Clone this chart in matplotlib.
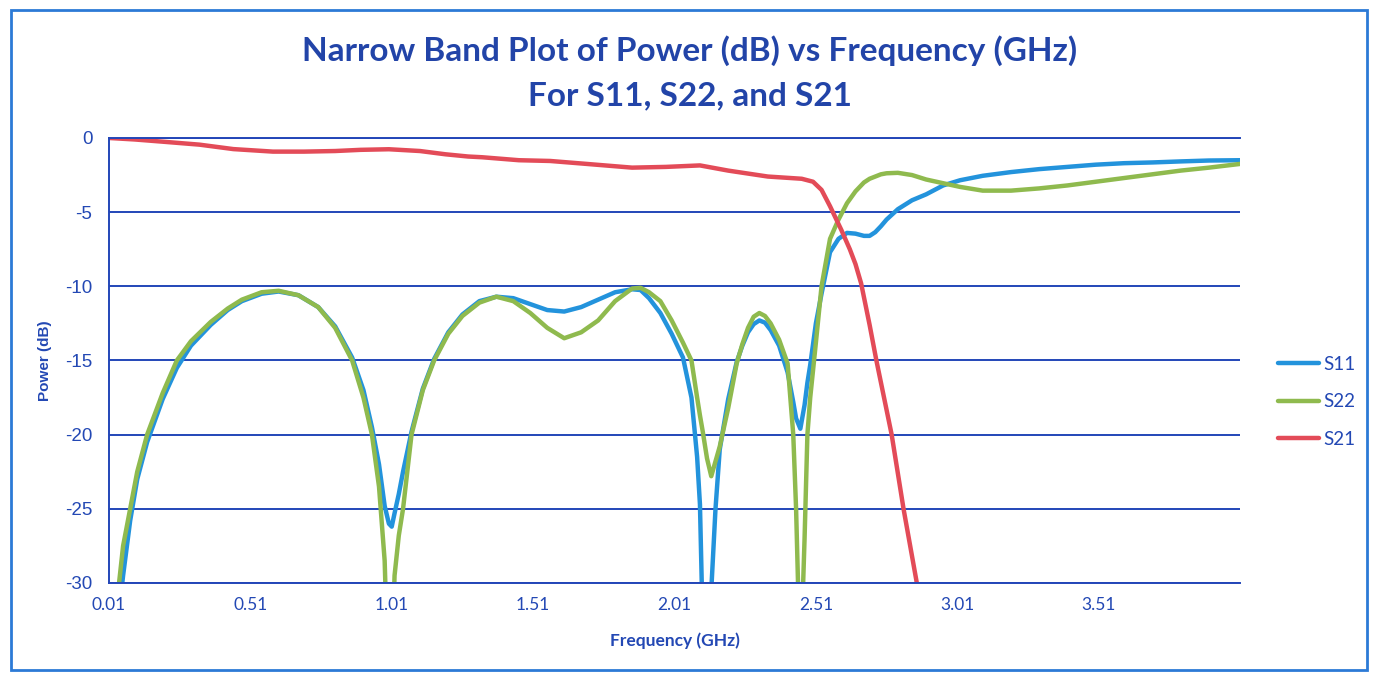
import matplotlib.pyplot as plt
from matplotlib.patches import Rectangle

# Narrow band plot of S11, S22 and S21

freq = [0.01, 0.04, 0.06, 0.085, 0.11, 0.145, 0.2, 0.25, 0.3, 0.37, 0.43, 0.48,
        0.55, 0.61, 0.68, 0.75, 0.81, 0.87, 0.91, 0.94, 0.965, 0.985, 1.0, 1.01,
        1.02, 1.035, 1.05, 1.08, 1.12, 1.16, 1.21, 1.26, 1.32, 1.38, 1.44, 1.5,
        1.56, 1.62, 1.68, 1.74, 1.8, 1.86, 1.89, 1.92, 1.96, 2.0, 2.04, 2.07, 2.09,
        2.1, 2.11, 2.125, 2.14, 2.155, 2.17, 2.2, 2.23, 2.25, 2.27, 2.29, 2.31, 2.33,
        2.35, 2.38, 2.41, 2.43, 2.44, 2.455, 2.47, 2.48, 2.49, 2.51, 2.53, 2.56, 2.59,
        2.62, 2.65, 2.68, 2.7, 2.72, 2.74, 2.76, 2.8, 2.85, 2.9, 2.96, 3.02, 3.1, 3.2,
        3.3, 3.4, 3.5, 3.6, 3.7, 3.8, 3.9, 4.01]

s11 = [-45, -33, -29.5, -25.8, -23, -20.5, -17.6, -15.5, -14.0, -12.6, -11.6, -11.0,
       -10.5, -10.35, -10.6, -11.4, -12.7, -14.8, -17.0, -19.5, -22.0, -24.8, -26.0, -26.2,
       -25.3, -24.0, -22.5, -19.8, -16.9, -14.9, -13.1, -11.9, -11.0, -10.7, -10.8, -11.2,
       -11.6, -11.7, -11.4, -10.9, -10.4, -10.2, -10.25, -10.8, -11.8, -13.2, -14.8, -17.5,
       -21.5, -24.7, -33, -40, -30.5, -25, -21, -17.6, -15.1, -14.0, -13.1, -12.55, -12.3,
       -12.45, -12.95, -14.0, -15.8, -17.8, -18.9, -19.6, -18.0, -16.5, -15.3, -12.5, -10.5,
       -7.7, -6.8, -6.4, -6.45, -6.6, -6.6, -6.35, -5.95, -5.5, -4.8, -4.2, -3.8, -3.2,
       -2.85, -2.55, -2.3, -2.1, -1.95, -1.8, -1.7, -1.65, -1.58, -1.52, -1.5]

s22 = [-42, -31, -27.5, -25, -22.5, -20, -17.2, -15, -13.7, -12.4, -11.5, -10.9,
       -10.4, -10.3, -10.6, -11.4, -12.8, -15.0, -17.5, -20, -23.5, -28.5, -38, -36,
       -29.5, -26.8, -25, -20, -17, -15, -13.2, -12, -11.1, -10.7, -11.0, -11.8,
       -12.8, -13.5, -13.1, -12.3, -11.0, -10.15, -10.1, -10.4, -11.0, -12.3, -13.8, -15,
       -17.5, -18.7, -19.8, -21.6, -22.8, -21.8, -20.8, -18.2, -15.2, -13.9, -12.8, -12.05,
       -11.8, -12.0, -12.5, -13.6, -15.2, -20, -25, -36, -27, -20, -17.5, -13.8, -10.0,
       -6.8, -5.5, -4.4, -3.6, -3.0, -2.75, -2.6, -2.45, -2.38, -2.35, -2.5, -2.8, -3.05,
       -3.3, -3.55, -3.55, -3.4, -3.2, -2.95, -2.7, -2.45, -2.2, -2.0, -1.75]

freq_s21 = [0.01, 0.1, 0.2, 0.33, 0.45, 0.59, 0.7, 0.81, 0.9, 1.0, 1.11, 1.2, 1.28,
            1.33, 1.46, 1.57, 1.7, 1.86, 1.98, 2.1, 2.2, 2.34, 2.46, 2.5, 2.53,
            2.56, 2.6, 2.63, 2.65, 2.67, 2.7, 2.724, 2.778, 2.82, 2.867, 2.9]
s21 = [0, -0.1, -0.25, -0.45, -0.75, -0.92, -0.92, -0.88, -0.8, -0.76, -0.88, -1.1, -1.25,
       -1.3, -1.5, -1.55, -1.75, -2.0, -1.95, -1.85, -2.2, -2.6, -2.75, -2.95, -3.5,
       -4.6, -6.2, -7.5, -8.5, -9.8, -12.6, -15, -20, -25, -30, -34]

xticks = [0.01, 0.51, 1.01, 1.51, 2.01, 2.51, 3.01, 3.51]
yticks = [0, -5, -10, -15, -20, -25, -30]

text_blue = '#2348B4'
grid_blue = '#2346B8'

fig = plt.figure(figsize=(13.74, 6.75), dpi=100)
ax = fig.add_axes([0.0793, 0.1363, 0.8232, 0.6593])

ax.plot(freq, s11, color='#2393DC', lw=3.2, label='S11', solid_capstyle='round')
ax.plot(freq, s22, color='#8FBA4E', lw=3.2, label='S22', solid_capstyle='round')
ax.plot(freq_s21, s21, color='#E34B58', lw=3.2, label='S21', solid_capstyle='round')

ax.set_xlim(0.01, 4.01)
ax.set_ylim(-30, 0)
ax.set_xticks(xticks)
ax.set_xticklabels([f'{t:.2f}' for t in xticks], family='Lato', fontsize=12.5, color=text_blue)
ax.set_yticks(yticks)
ax.set_yticklabels([str(t) for t in yticks], family='Liberation Sans', fontsize=13.5, color=text_blue)
ax.tick_params(length=0, pad=12)
ax.tick_params(axis='x', pad=10)

ax.yaxis.grid(True, color=grid_blue, lw=1.4)
ax.set_axisbelow(True)
for side in ['left', 'bottom', 'top']:
    ax.spines[side].set_color(grid_blue)
    ax.spines[side].set_linewidth(1.4)
ax.spines['right'].set_visible(False)

ax.set_xlabel('Frequency (GHz)', family='Lato', fontweight='bold', fontsize=12.5,
              color=text_blue, labelpad=14)
ax.set_ylabel('Power (dB)', family='Liberation Sans', fontweight='bold', fontsize=11,
              color=text_blue, labelpad=9)

fig.text(0.502, 0.925, 'Narrow Band Plot of Power (dB) vs Frequency (GHz)',
         ha='center', va='center', family='Lato', fontweight='bold', fontsize=24,
         color='#2244A8')
fig.text(0.502, 0.858, 'For S11, S22, and S21', ha='center', va='center',
         family='Lato', fontweight='bold', fontsize=24, color='#2244A8')

leg = fig.legend(loc='center left', bbox_to_anchor=(0.918, 0.405), frameon=False,
                 handlelength=2.2, handletextpad=0.2, labelspacing=1.1,
                 prop={'family': 'Lato', 'size': 13.5})
for t in leg.get_texts():
    t.set_color(text_blue)

fig.patches.append(Rectangle((0.008, 0.008), 0.987, 0.977, transform=fig.transFigure,
                             fill=False, edgecolor='#2C7AD6', lw=2))

fig.savefig('out.png', dpi=100)
